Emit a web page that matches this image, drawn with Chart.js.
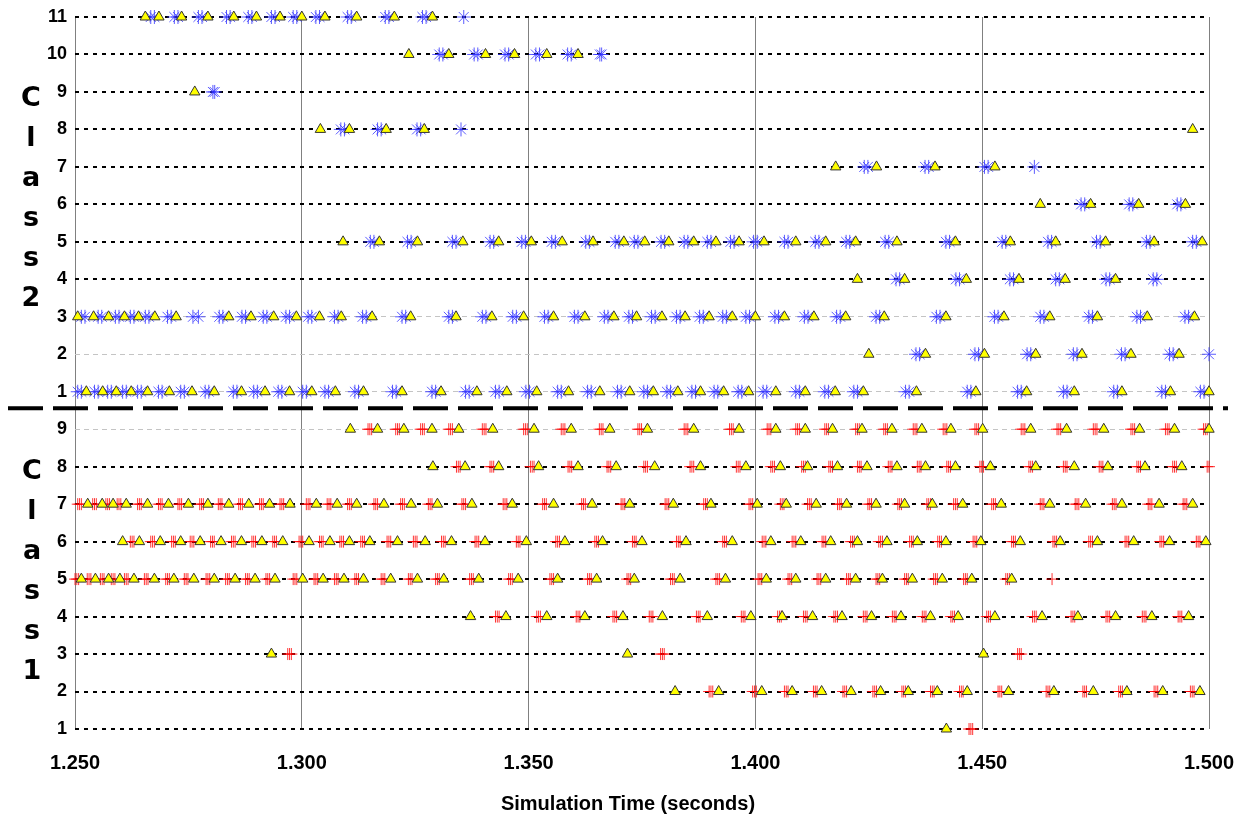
<!DOCTYPE html>
<html>
<head>
<meta charset="utf-8">
<style>
html, body { margin: 0; padding: 0; background: #fff; }
#wrap { width: 1244px; height: 814px; }
</style>
</head>
<body>
<div id="wrap"><canvas id="eventChart" width="1244" height="814"></canvas></div>
<script src="https://cdn.jsdelivr.net/npm/chart.js"></script>
<script>
// axis ticks
const xTickValues = [1.25, 1.30, 1.35, 1.40, 1.45, 1.50];
const yTickLabels = ["1","2","3","4","5","6","7","8","9","1","2","3","4","5","6","7","8","9","10","11"];
const class2Letters = ["C","l","a","s","s","2"];
const class1Letters = ["C","l","a","s","s","1"];
// class 1 row k is drawn at y = k, class 2 row k at y = k + 9
const class2Shift = 9;
const separatorValue = 9.56;
const lightGridRows = [9, 10, 11, 12];

// ---- Class 2 (triangles + blue asterisks) ----
const c2r11Tri = [1.2655,1.2685,1.2735,1.2793,1.2850,1.2900,1.2952,1.3000,1.3051,1.3121,1.3204,1.3288];
const c2r11Ast = [1.2667,1.2675,1.2719,1.2727,1.2772,1.2780,1.2834,1.2842,1.2882,1.2890,1.2933,1.2941,1.2981,1.2989,1.3031,1.3039,1.3101,1.3109,1.3184,1.3192,1.3266,1.3274,1.3357];
const c2r10Tri = [1.3236,1.3324,1.3405,1.3469,1.3540,1.3609];
const c2r10Ast = [1.3303,1.3311,1.3380,1.3388,1.3448,1.3456,1.3516,1.3524,1.3586,1.3594,1.3657,1.3661];
const c2r9Tri = [1.2764];
const c2r9Ast = [1.2804,1.2808];
const c2r8Tri = [1.3041,1.3105,1.3186,1.3270,1.4964];
const c2r8Ast = [1.3086,1.3094,1.3167,1.3175,1.3254,1.3262,1.3351];
const c2r7Tri = [1.4177,1.4267,1.4396,1.4528];
const c2r7Ast = [1.4240,1.4248,1.4374,1.4382,1.4505,1.4513,1.4615];
const c2r6Tri = [1.4628,1.4739,1.4845,1.4948];
const c2r6Ast = [1.4718,1.4726,1.4824,1.4832,1.4930,1.4938];
const c2r5Tri = [1.3091,1.3171,1.3255,1.3355,1.3434,1.3506,1.3574,1.3642,1.3710,1.3756,1.3809,1.3864,1.3913,1.3964,1.4019,1.4089,1.4155,1.4221,1.4312,1.4441,1.4562,1.4662,1.4772,1.4879,1.4985];
const c2r5Ast = [1.3151,1.3159,1.3233,1.3241,1.3332,1.3340,1.3415,1.3423,1.3485,1.3493,1.3551,1.3559,1.3626,1.3634,1.3691,1.3699,1.3733,1.3741,1.3792,1.3800,1.3843,1.3851,1.3894,1.3902,1.3945,1.3953,1.3996,1.4004,1.4064,1.4072,1.4132,1.4140,1.4200,1.4208,1.4286,1.4294,1.4420,1.4428,1.4544,1.4552,1.4645,1.4653,1.4752,1.4760,1.4862,1.4870,1.4964,1.4972];
const c2r4Tri = [1.4225,1.4329,1.4465,1.4581,1.4683,1.4794];
const c2r4Ast = [1.4310,1.4318,1.4442,1.4450,1.4561,1.4569,1.4662,1.4670,1.4773,1.4781,1.4877,1.4885];
const c2r3Tri = [1.2506,1.2541,1.2574,1.2609,1.2640,1.2676,1.2723,1.2839,1.2888,1.2938,1.2988,1.3039,1.3087,1.3155,1.3240,1.3340,1.3419,1.3489,1.3555,1.3624,1.3688,1.3738,1.3794,1.3845,1.3898,1.3949,1.4000,1.4064,1.4129,1.4199,1.4284,1.4420,1.4548,1.4649,1.4754,1.4864,1.4968];
const c2r3Ast = [1.2514,1.2522,1.2551,1.2559,1.2589,1.2597,1.2622,1.2630,1.2655,1.2663,1.2704,1.2712,1.2760,1.2772,1.2818,1.2826,1.2868,1.2876,1.2915,1.2923,1.2965,1.2973,1.3014,1.3022,1.3072,1.3080,1.3134,1.3142,1.3221,1.3229,1.3324,1.3332,1.3398,1.3406,1.3465,1.3473,1.3535,1.3543,1.3601,1.3609,1.3667,1.3675,1.3721,1.3729,1.3771,1.3779,1.3826,1.3834,1.3877,1.3885,1.3928,1.3936,1.3979,1.3987,1.4043,1.4051,1.4108,1.4116,1.4179,1.4187,1.4266,1.4274,1.4399,1.4407,1.4527,1.4535,1.4628,1.4636,1.4735,1.4743,1.4841,1.4849,1.4947,1.4955];
const c2r2Tri = [1.4250,1.4375,1.4505,1.4618,1.4720,1.4828,1.4934];
const c2r2Ast = [1.4354,1.4362,1.4484,1.4492,1.4599,1.4607,1.4701,1.4709,1.4807,1.4815,1.4913,1.4921,1.5000];
const c2r1Tri = [1.2525,1.2561,1.2591,1.2624,1.2660,1.2708,1.2758,1.2807,1.2867,1.2919,1.2973,1.3022,1.3074,1.3136,1.3221,1.3307,1.3386,1.3452,1.3518,1.3588,1.3657,1.3723,1.3775,1.3829,1.3879,1.3930,1.3985,1.4045,1.4110,1.4176,1.4238,1.4355,1.4486,1.4598,1.4703,1.4808,1.4915,1.5000];
const c2r1Ast = [1.2506,1.2514,1.2543,1.2551,1.2572,1.2580,1.2605,1.2613,1.2638,1.2646,1.2684,1.2692,1.2733,1.2741,1.2787,1.2795,1.2849,1.2857,1.2894,1.2902,1.2948,1.2956,1.3002,1.3010,1.3051,1.3059,1.3117,1.3125,1.3200,1.3208,1.3287,1.3295,1.3361,1.3369,1.3427,1.3435,1.3494,1.3502,1.3564,1.3572,1.3630,1.3638,1.3696,1.3704,1.3754,1.3762,1.3805,1.3813,1.3860,1.3868,1.3909,1.3917,1.3962,1.3970,1.4017,1.4025,1.4089,1.4097,1.4153,1.4161,1.4217,1.4225,1.4331,1.4339,1.4467,1.4475,1.4578,1.4586,1.4679,1.4687,1.4790,1.4798,1.4896,1.4904,1.4981,1.4989];

// ---- Class 1 (triangles + red crosses) ----
const c1r9Tri = [1.3107,1.3167,1.3225,1.3287,1.3346,1.3421,1.3512,1.3594,1.3679,1.3762,1.3864,1.3964,1.4045,1.4110,1.4170,1.4235,1.4301,1.4367,1.4431,1.4501,1.4607,1.4686,1.4768,1.4847,1.4924,1.5000];
const c1r9Cross = [1.3146,1.3150,1.3154,1.3207,1.3211,1.3215,1.3262,1.3266,1.3270,1.3324,1.3328,1.3332,1.3398,1.3402,1.3406,1.3489,1.3493,1.3497,1.3572,1.3576,1.3580,1.3656,1.3660,1.3664,1.3741,1.3745,1.3749,1.3843,1.3847,1.3851,1.3943,1.3947,1.3951,1.4026,1.4030,1.4034,1.4089,1.4093,1.4097,1.4153,1.4157,1.4161,1.4221,1.4225,1.4229,1.4283,1.4287,1.4291,1.4348,1.4352,1.4356,1.4414,1.4418,1.4422,1.4484,1.4488,1.4492,1.4586,1.4590,1.4594,1.4665,1.4669,1.4673,1.4745,1.4749,1.4753,1.4828,1.4832,1.4836,1.4904,1.4908,1.4912,1.4988,1.4992,1.4996];
const c1r8Tri = [1.3289,1.3360,1.3434,1.3522,1.3609,1.3693,1.3778,1.3879,1.3979,1.4055,1.4115,1.4181,1.4246,1.4312,1.4375,1.4441,1.4518,1.4618,1.4703,1.4777,1.4859,1.4940];
const c1r8Cross = [1.3341,1.3345,1.3349,1.3415,1.3419,1.3423,1.3504,1.3508,1.3512,1.3587,1.3591,1.3595,1.3673,1.3677,1.3681,1.3754,1.3758,1.3762,1.3856,1.3860,1.3864,1.3958,1.3962,1.3966,1.4034,1.4038,1.4042,1.4102,1.4106,1.4110,1.4162,1.4166,1.4170,1.4225,1.4229,1.4233,1.4293,1.4297,1.4301,1.4357,1.4361,1.4365,1.4422,1.4426,1.4430,1.4495,1.4499,1.4503,1.4603,1.4607,1.4611,1.4679,1.4683,1.4687,1.4758,1.4762,1.4766,1.4841,1.4845,1.4849,1.4920,1.4924,1.4928,1.4996,1.5000];
const c1r7Tri = [1.2528,1.2560,1.2584,1.2613,1.2660,1.2706,1.2750,1.2793,1.2839,1.2883,1.2929,1.2974,1.3032,1.3078,1.3121,1.3181,1.3241,1.3299,1.3375,1.3464,1.3555,1.3640,1.3723,1.3819,1.3902,1.4004,1.4068,1.4134,1.4201,1.4266,1.4329,1.4390,1.4457,1.4542,1.4649,1.4728,1.4808,1.4890,1.4964];
const c1r7Cross = [1.2506,1.2510,1.2514,1.2539,1.2543,1.2547,1.2568,1.2572,1.2576,1.2593,1.2597,1.2601,1.2638,1.2642,1.2646,1.2684,1.2688,1.2692,1.2727,1.2731,1.2735,1.2775,1.2779,1.2783,1.2816,1.2820,1.2824,1.2861,1.2865,1.2869,1.2907,1.2911,1.2915,1.2952,1.2956,1.2960,1.3010,1.3014,1.3018,1.3056,1.3060,1.3064,1.3101,1.3105,1.3109,1.3159,1.3163,1.3167,1.3218,1.3222,1.3226,1.3279,1.3283,1.3287,1.3353,1.3357,1.3361,1.3444,1.3448,1.3452,1.3531,1.3535,1.3539,1.3617,1.3621,1.3625,1.3704,1.3708,1.3712,1.3801,1.3805,1.3809,1.3886,1.3890,1.3894,1.3986,1.3990,1.3994,1.4055,1.4059,1.4063,1.4115,1.4119,1.4123,1.4181,1.4185,1.4189,1.4248,1.4252,1.4256,1.4314,1.4318,1.4322,1.4378,1.4382,1.4386,1.4437,1.4441,1.4445,1.4521,1.4525,1.4529,1.4628,1.4632,1.4636,1.4705,1.4709,1.4713,1.4787,1.4791,1.4795,1.4866,1.4870,1.4874,1.4943,1.4947,1.4951];
const c1r6Tri = [1.2605,1.2642,1.2688,1.2733,1.2776,1.2822,1.2867,1.2912,1.2958,1.3016,1.3062,1.3105,1.3150,1.3211,1.3272,1.3330,1.3404,1.3495,1.3580,1.3663,1.3750,1.3847,1.3949,1.4034,1.4100,1.4166,1.4225,1.4290,1.4357,1.4420,1.4497,1.4584,1.4672,1.4754,1.4834,1.4913,1.4993];
const c1r6Cross = [1.2622,1.2626,1.2630,1.2667,1.2671,1.2675,1.2713,1.2717,1.2721,1.2754,1.2758,1.2762,1.2799,1.2803,1.2807,1.2845,1.2849,1.2853,1.2890,1.2894,1.2898,1.2936,1.2940,1.2944,1.2994,1.2998,1.3002,1.3039,1.3043,1.3047,1.3084,1.3088,1.3092,1.3130,1.3134,1.3138,1.3188,1.3192,1.3196,1.3246,1.3250,1.3254,1.3308,1.3312,1.3316,1.3382,1.3386,1.3390,1.3473,1.3477,1.3481,1.3560,1.3564,1.3568,1.3646,1.3650,1.3654,1.3729,1.3733,1.3737,1.3826,1.3830,1.3834,1.3928,1.3932,1.3936,1.4015,1.4019,1.4023,1.4081,1.4085,1.4089,1.4147,1.4151,1.4155,1.4210,1.4214,1.4218,1.4272,1.4276,1.4280,1.4340,1.4344,1.4348,1.4402,1.4406,1.4410,1.4480,1.4484,1.4488,1.4565,1.4569,1.4573,1.4656,1.4660,1.4664,1.4735,1.4739,1.4743,1.4815,1.4819,1.4823,1.4892,1.4896,1.4900,1.4972,1.4976,1.4980];
const c1r5Tri = [1.2514,1.2545,1.2574,1.2599,1.2630,1.2675,1.2718,1.2762,1.2807,1.2853,1.2897,1.2941,1.3002,1.3047,1.3093,1.3136,1.3196,1.3255,1.3313,1.3390,1.3477,1.3564,1.3650,1.3733,1.3834,1.3934,1.4024,1.4089,1.4155,1.4221,1.4280,1.4346,1.4412,1.4477,1.4565];
const c1r5Cross = [1.2500,1.2504,1.2508,1.2527,1.2531,1.2535,1.2556,1.2560,1.2564,1.2580,1.2584,1.2588,1.2609,1.2613,1.2617,1.2653,1.2657,1.2661,1.2700,1.2704,1.2708,1.2741,1.2745,1.2749,1.2789,1.2793,1.2797,1.2832,1.2836,1.2840,1.2876,1.2880,1.2884,1.2921,1.2925,1.2929,1.2981,1.2985,1.2989,1.3027,1.3031,1.3035,1.3072,1.3076,1.3080,1.3117,1.3121,1.3125,1.3175,1.3179,1.3183,1.3235,1.3239,1.3243,1.3295,1.3299,1.3303,1.3370,1.3374,1.3378,1.3456,1.3460,1.3464,1.3547,1.3551,1.3555,1.3630,1.3634,1.3638,1.3717,1.3721,1.3725,1.3813,1.3817,1.3821,1.3913,1.3917,1.3921,1.4006,1.4010,1.4014,1.4072,1.4076,1.4080,1.4136,1.4140,1.4144,1.4201,1.4205,1.4209,1.4266,1.4270,1.4274,1.4329,1.4333,1.4337,1.4393,1.4397,1.4401,1.4459,1.4463,1.4467,1.4552,1.4556,1.4560,1.4654];
const c1r4Tri = [1.3372,1.3450,1.3540,1.3624,1.3708,1.3795,1.3894,1.3990,1.4059,1.4126,1.4191,1.4256,1.4321,1.4386,1.4447,1.4528,1.4632,1.4711,1.4794,1.4874,1.4955];
const c1r4Cross = [1.3427,1.3431,1.3435,1.3518,1.3522,1.3526,1.3605,1.3609,1.3613,1.3686,1.3690,1.3694,1.3766,1.3770,1.3774,1.3870,1.3874,1.3878,1.3969,1.3973,1.3977,1.4049,1.4053,1.4057,1.4106,1.4110,1.4114,1.4173,1.4177,1.4181,1.4238,1.4242,1.4246,1.4302,1.4306,1.4310,1.4368,1.4372,1.4376,1.4431,1.4435,1.4439,1.4510,1.4514,1.4518,1.4611,1.4615,1.4619,1.4696,1.4700,1.4704,1.4773,1.4777,1.4781,1.4853,1.4857,1.4861,1.4932,1.4936,1.4940];
const c1r3Tri = [1.2933,1.3718,1.4503];
const c1r3Cross = [1.2969,1.2973,1.2977,1.3791,1.3795,1.3799,1.4578,1.4582,1.4586];
const c1r2Tri = [1.3823,1.3919,1.4014,1.4081,1.4146,1.4211,1.4276,1.4337,1.4401,1.4467,1.4558,1.4658,1.4745,1.4819,1.4898,1.4980];
const c1r2Cross = [1.3898,1.3902,1.3906,1.3994,1.3998,1.4002,1.4064,1.4068,1.4072,1.4128,1.4132,1.4136,1.4193,1.4197,1.4201,1.4259,1.4263,1.4267,1.4323,1.4327,1.4331,1.4386,1.4390,1.4394,1.4450,1.4454,1.4458,1.4535,1.4539,1.4543,1.4641,1.4645,1.4649,1.4722,1.4726,1.4730,1.4801,1.4805,1.4809,1.4879,1.4883,1.4887,1.4959,1.4963,1.4967];
const c1r1Tri = [1.4421];
const c1r1Cross = [1.4471,1.4475,1.4479];

// rows -> points
const triangleRows = [
  [c2r11Tri, 11 + class2Shift], [c2r10Tri, 10 + class2Shift], [c2r9Tri, 9 + class2Shift],
  [c2r8Tri, 8 + class2Shift], [c2r7Tri, 7 + class2Shift], [c2r6Tri, 6 + class2Shift],
  [c2r5Tri, 5 + class2Shift], [c2r4Tri, 4 + class2Shift], [c2r3Tri, 3 + class2Shift],
  [c2r2Tri, 2 + class2Shift], [c2r1Tri, 1 + class2Shift],
  [c1r9Tri, 9], [c1r8Tri, 8], [c1r7Tri, 7], [c1r6Tri, 6], [c1r5Tri, 5],
  [c1r4Tri, 4], [c1r3Tri, 3], [c1r2Tri, 2], [c1r1Tri, 1]
];
const asteriskRows = [
  [c2r11Ast, 11 + class2Shift], [c2r10Ast, 10 + class2Shift], [c2r9Ast, 9 + class2Shift],
  [c2r8Ast, 8 + class2Shift], [c2r7Ast, 7 + class2Shift], [c2r6Ast, 6 + class2Shift],
  [c2r5Ast, 5 + class2Shift], [c2r4Ast, 4 + class2Shift], [c2r3Ast, 3 + class2Shift],
  [c2r2Ast, 2 + class2Shift], [c2r1Ast, 1 + class2Shift]
];
const crossRows = [
  [c1r9Cross, 9], [c1r8Cross, 8], [c1r7Cross, 7], [c1r6Cross, 6], [c1r5Cross, 5],
  [c1r4Cross, 4], [c1r3Cross, 3], [c1r2Cross, 2], [c1r1Cross, 1]
];

function toPoints(rows) {
  return rows.flatMap(([xs, y]) => xs.map(x => ({ x: x, y: y })));
}

// separator, stacked class letters and x title
const overlayPlugin = {
  id: "overlay",
  afterDatasetsDraw(chart) {
    const ctx = chart.ctx;
    const ySep = chart.scales.y.getPixelForValue(separatorValue);
    ctx.save();
    ctx.strokeStyle = "#000";
    ctx.lineWidth = 4;
    ctx.setLineDash([35, 10]);
    ctx.beginPath();
    ctx.moveTo(8, ySep);
    ctx.lineTo(1228, ySep);
    ctx.stroke();
    ctx.setLineDash([]);

    ctx.fillStyle = "#000";
    ctx.textAlign = "center";
    ctx.textBaseline = "middle";
    ctx.font = 'bold 27px "DejaVu Sans"';
    class2Letters.forEach((ch, i) => ctx.fillText(ch, 31, 99 + i * 40));
    class1Letters.forEach((ch, i) => ctx.fillText(ch, 32, 472 + i * 40));

    ctx.font = 'bold 20px "Liberation Sans"';
    ctx.fillText("Simulation Time (seconds)", 628, 804);
    ctx.restore();
  }
};

const tickFont = { family: "Liberation Sans", weight: "bold" };

new Chart(document.getElementById("eventChart").getContext("2d"), {
  type: "scatter",
  data: {
    datasets: [
      {
        label: "triangles",
        data: toPoints(triangleRows),
        pointStyle: "triangle",
        pointRadius: 6,
        pointBackgroundColor: "#ffff00",
        pointBorderColor: "#333333",
        pointBorderWidth: 1,
        clip: false
      },
      {
        label: "class 2 events",
        data: toPoints(asteriskRows),
        pointStyle: "star",
        pointRadius: 7,
        pointBackgroundColor: "rgba(0,0,0,0)",
        pointBorderColor: "rgba(50,50,255,0.8)",
        pointBorderWidth: 1,
        clip: false
      },
      {
        label: "class 1 events",
        data: toPoints(crossRows),
        pointStyle: "cross",
        pointRadius: 6,
        pointBackgroundColor: "rgba(0,0,0,0)",
        pointBorderColor: "rgba(255,0,0,0.8)",
        pointBorderWidth: 1,
        clip: false
      }
    ]
  },
  options: {
    responsive: false,
    animation: false,
    events: [],
    layout: { autoPadding: false, padding: { left: 0, right: 35, top: 17, bottom: 0 } },
    plugins: {
      legend: { display: false },
      tooltip: { enabled: false }
    },
    scales: {
      x: {
        type: "linear",
        min: 1.25,
        max: 1.5,
        afterBuildTicks: s => { s.ticks = xTickValues.map(v => ({ value: v })); },
        afterFit: s => { s.height = 85; s.paddingLeft = 0; s.paddingRight = 0; },
        ticks: {
          callback: v => v.toFixed(3),
          font: { ...tickFont, size: 20 },
          color: "#000",
          padding: 22,
          maxRotation: 0,
          autoSkip: false
        },
        grid: { color: "#808080", lineWidth: 1, drawTicks: false },
        border: { display: false }
      },
      y: {
        type: "linear",
        min: 1,
        max: 20,
        afterBuildTicks: s => { s.ticks = yTickLabels.map((_, i) => ({ value: i + 1 })); },
        afterFit: s => { s.width = 75; s.paddingTop = 0; s.paddingBottom = 0; },
        ticks: {
          callback: (v, i) => yTickLabels[i],
          font: { ...tickFont, size: 18 },
          color: "#000",
          padding: 8,
          autoSkip: false
        },
        grid: {
          color: c => lightGridRows.includes(c.tick && c.tick.value) ? "#c4c4c4" : "#000",
          lineWidth: c => lightGridRows.includes(c.tick && c.tick.value) ? 1 : 2,
          drawTicks: false
        },
        border: {
          display: false,
          dash: c => lightGridRows.includes(c.tick && c.tick.value) ? [5, 4] : [4, 5]
        }
      }
    }
  },
  plugins: [overlayPlugin]
});
</script>
</body>
</html>
